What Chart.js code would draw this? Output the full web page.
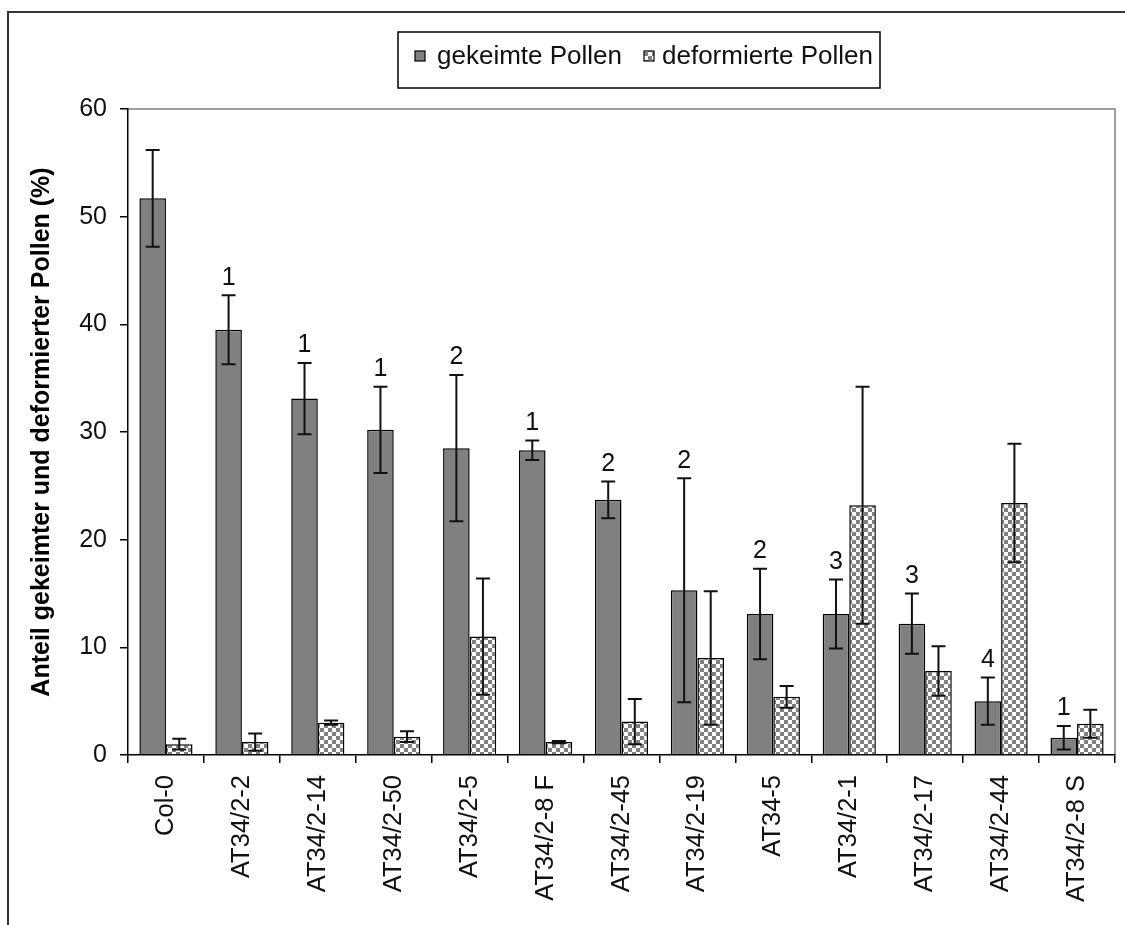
<!DOCTYPE html>
<html>
<head>
<meta charset="utf-8">
<script src="https://cdn.jsdelivr.net/npm/chart.js@4"></script>
<style>
    body { margin: 0; background: #fff; }
    canvas { display: block; }
</style>
</head>
<body>
<canvas id="myChart" width="1125" height="925"></canvas>
<script>
    var categories = ['Col-0', 'AT34/2-2', 'AT34/2-14', 'AT34/2-50', 'AT34/2-5', 'AT34/2-8 F', 'AT34/2-45', 'AT34/2-19', 'AT34-5', 'AT34/2-1', 'AT34/2-17', 'AT34/2-44', 'AT34/2-8 S'];
    var keimMean = [51.7, 39.5, 33.1, 30.2, 28.5, 28.3, 23.7, 15.3, 13.1, 13.1, 12.2, 5.0, 1.6];
    var keimErr = [4.5, 3.2, 3.3, 4.0, 6.8, 0.9, 1.7, 10.4, 4.2, 3.2, 2.8, 2.2, 1.1];
    var deformMean = [1.0, 1.2, 3.0, 1.7, 11.0, 1.2, 3.1, 9.0, 5.4, 23.2, 7.8, 23.4, 2.9];
    var deformErr = [0.5, 0.8, 0.2, 0.5, 5.4, 0.1, 2.1, 6.2, 1.0, 11.0, 2.3, 5.5, 1.3];
    var keimGroups = ['', '1', '1', '1', '2', '1', '2', '2', '2', '3', '3', '4', '1'];
    var legendLabels = ['gekeimte Pollen', 'deformierte Pollen'];

    var FONT = "'Liberation Sans', Arial, sans-serif";

    var canvas = document.getElementById('myChart');
    var ctx = canvas.getContext('2d');

    // checkerboard fill for the deformed pollen bars
    function checker() {
        var c = document.createElement('canvas');
        c.width = 8; c.height = 8;
        var g = c.getContext('2d');
        g.fillStyle = '#fff';
        g.fillRect(0, 0, 8, 8);
        g.fillStyle = '#808080';
        g.fillRect(0, 0, 4, 4);
        g.fillRect(4, 4, 4, 4);
        return ctx.createPattern(c, 'repeat');
    }
    var pattern = checker();

    var framePlugin = {
        id: 'frame',
        beforeDraw: function (chart) {
            var c = chart.ctx, a = chart.chartArea;
            c.save();
            c.fillStyle = '#fff';
            c.fillRect(0, 0, chart.width, chart.height);
            c.strokeStyle = '#333';
            c.lineWidth = 2;
            c.strokeRect(8, 12, 1300, 1300);
            c.strokeStyle = '#808080';
            c.lineWidth = 1.5;
            c.beginPath();
            c.moveTo(a.left, a.top);
            c.lineTo(a.right, a.top);
            c.lineTo(a.right, a.bottom);
            c.stroke();
            c.restore();
        }
    };

    var errorPlugin = {
        id: 'errorBars',
        afterDatasetsDraw: function (chart) {
            var c = chart.ctx, y = chart.scales.y;
            var errs = [keimErr, deformErr];
            c.save();
            c.strokeStyle = '#111';
            c.lineWidth = 2;
            chart.data.datasets.forEach(function (ds, i) {
                var meta = chart.getDatasetMeta(i);
                meta.data.forEach(function (bar, j) {
                    var top = y.getPixelForValue(ds.data[j] + errs[i][j]);
                    var bot = y.getPixelForValue(Math.max(ds.data[j] - errs[i][j], 0));
                    c.beginPath();
                    c.moveTo(bar.x, top); c.lineTo(bar.x, bot);
                    c.moveTo(bar.x - 7, top); c.lineTo(bar.x + 7, top);
                    c.moveTo(bar.x - 7, bot); c.lineTo(bar.x + 7, bot);
                    c.stroke();
                    if (i === 0 && keimGroups[j]) {
                        c.fillStyle = '#111';
                        c.font = '25px ' + FONT;
                        c.textAlign = 'center';
                        c.textBaseline = 'bottom';
                        c.fillText(keimGroups[j], bar.x, top - 5);
                    }
                });
            });
            c.restore();
        }
    };

    var legendPlugin = {
        id: 'boxLegend',
        afterDraw: function (chart) {
            var c = chart.ctx;
            c.save();
            c.strokeStyle = '#000';
            c.lineWidth = 1.5;
            c.strokeRect(398, 32, 482, 56);
            var items = [[415, '#808080', 437], [644, pattern, 662]];
            c.font = '26px ' + FONT;
            c.textBaseline = 'middle';
            c.textAlign = 'left';
            items.forEach(function (it, i) {
                c.fillStyle = it[1];
                c.fillRect(it[0], 51, 10, 10);
                c.strokeStyle = '#000';
                c.lineWidth = 1.2;
                c.strokeRect(it[0], 51, 10, 10);
                c.fillStyle = '#111';
                c.fillText(legendLabels[i], it[2], 57);
            });
            c.restore();
        }
    };

    var chart = new Chart(ctx, {
        type: 'bar',
        data: {
            labels: categories,
            datasets: [
                {
                    label: legendLabels[0],
                    backgroundColor: '#808080',
                    borderColor: '#000',
                    borderWidth: 1.5,
                    data: keimMean
                },
                {
                    label: legendLabels[1],
                    backgroundColor: pattern,
                    borderColor: '#000',
                    borderWidth: 1.5,
                    data: deformMean
                }
            ]
        },
        options: {
            responsive: false,
            animation: false,
            categoryPercentage: 0.7,
            barPercentage: 1.0,
            layout: { padding: { left: 8, top: 109, right: 10, bottom: 0 } },
            plugins: {
                legend: { display: false },
                tooltip: { enabled: false }
            },
            scales: {
                x: {
                    grid: { offset: true, drawOnChartArea: false, color: '#000', lineWidth: 1.5, tickLength: 8 },
                    border: { color: '#000', width: 1.5 },
                    ticks: {
                        autoSkip: false, minRotation: 90, maxRotation: 90, padding: 12,
                        color: '#111', font: { family: FONT, size: 25.5 }
                    },
                    afterFit: function (s) { s.height = 170; }
                },
                y: {
                    min: 0,
                    max: 60,
                    grid: { drawOnChartArea: false, color: '#000', lineWidth: 1.5, tickLength: 8 },
                    border: { color: '#000', width: 1.5 },
                    ticks: { stepSize: 10, padding: 13, color: '#111', font: { family: FONT, size: 25 } },
                    title: {
                        display: true,
                        text: 'Anteil gekeimter und deformierter Pollen (%)',
                        color: '#000',
                        font: { family: FONT, size: 25, weight: 'bold' },
                        padding: { top: 19, bottom: 0 }
                    },
                    afterFit: function (s) { s.width = 120; }
                }
            }
        },
        plugins: [framePlugin, errorPlugin, legendPlugin]
    });
</script>
</body>
</html>
